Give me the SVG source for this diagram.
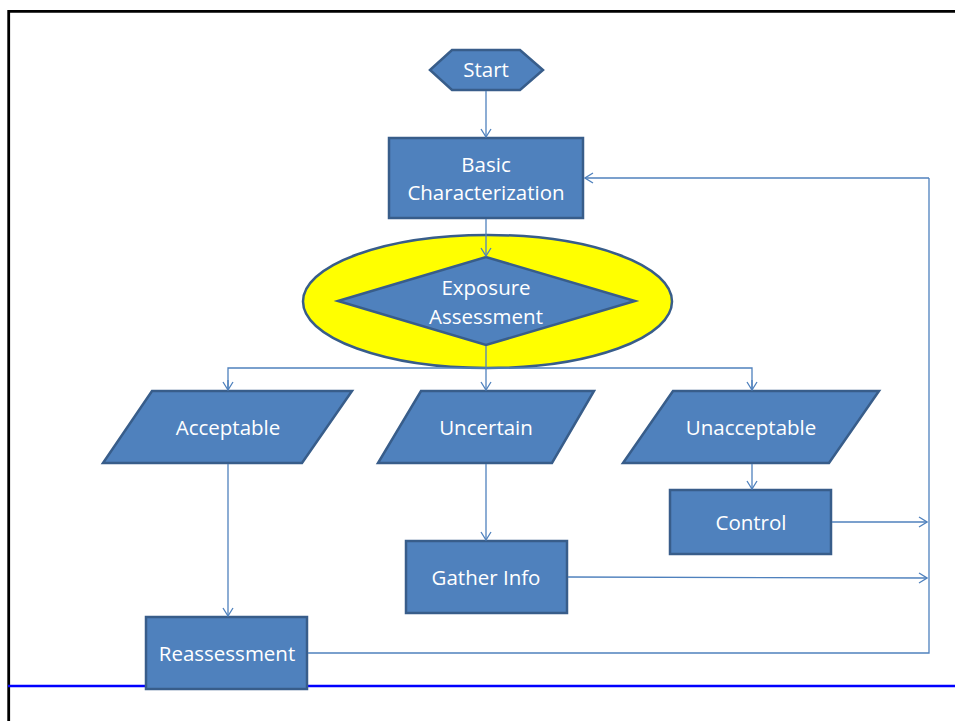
<svg xmlns="http://www.w3.org/2000/svg" width="955" height="721" viewBox="0 0 955 721">
  <style>
    .shape { fill: #4F81BD; stroke: #385D8A; stroke-width: 2.5; stroke-linejoin: miter; }
    .label { fill: #FFFFFF; font-family: "Open Sans", "Liberation Sans", sans-serif; font-size: 20.5px; text-anchor: middle; }
    .wire { fill: none; stroke: #4F81BD; stroke-width: 1.3; }
  </style>
  <defs>
    <marker id="arrow" viewBox="0 0 10 12" refX="9" refY="6" markerWidth="10" markerHeight="12" markerUnits="userSpaceOnUse" orient="auto">
      <path d="M1 1 L9 6 L1 11" fill="none" stroke="#4F81BD" stroke-width="1.3"/>
    </marker>
  </defs>

  <rect x="0" y="0" width="955" height="721" fill="#FFFFFF"/>

  <!-- slide frame -->
  <path d="M8.7 721 V11.3 H955" fill="none" stroke="#000000" stroke-width="2.8"/>
  <line x1="8" y1="686" x2="955" y2="686" stroke="#0000FF" stroke-width="2.6"/>

  <g id="start">
    <polygon class="shape" points="430,70 452,50 520,50 543,70 520,90 452,90"/>
    <text class="label" x="486" y="77">Start</text>
  </g>

  <g id="basic-characterization">
    <rect class="shape" x="389" y="138" width="194" height="80"/>
    <text class="label" x="486" y="172">Basic</text>
    <text class="label" x="486" y="200">Characterization</text>
  </g>

  <g id="exposure-assessment">
    <ellipse cx="487.5" cy="301.5" rx="184.5" ry="66.5" fill="#FFFF00" stroke="#385D8A" stroke-width="2.5"/>
    <polygon class="shape" points="338,301 486,257 635,301 486,345"/>
    <text class="label" x="486" y="295">Exposure</text>
    <text class="label" x="486" y="324">Assessment</text>
  </g>

  <g id="acceptable">
    <polygon class="shape" points="152,391 352,391 302,463 103,463"/>
    <text class="label" x="228" y="435">Acceptable</text>
  </g>

  <g id="uncertain">
    <polygon class="shape" points="421,391 594,391 552,463 378,463"/>
    <text class="label" x="486" y="435">Uncertain</text>
  </g>

  <g id="unacceptable">
    <polygon class="shape" points="673,391 879,391 829,463 623,463"/>
    <text class="label" x="751" y="435">Unacceptable</text>
  </g>

  <g id="control">
    <rect class="shape" x="670" y="490" width="161" height="64"/>
    <text class="label" x="751" y="530">Control</text>
  </g>

  <g id="gather-info">
    <rect class="shape" x="406" y="541" width="161" height="72"/>
    <text class="label" x="486" y="585">Gather Info</text>
  </g>

  <g id="reassessment">
    <rect class="shape" x="146" y="617" width="161" height="72"/>
    <text class="label" x="227" y="661">Reassessment</text>
  </g>

  <!-- connectors, drawn over the shapes so they show across the ellipse -->
  <g id="connectors">
    <line class="wire" x1="486" y1="91" x2="486" y2="137" marker-end="url(#arrow)"/>
    <line class="wire" x1="486" y1="219" x2="486" y2="256" marker-end="url(#arrow)"/>
    <line class="wire" x1="486" y1="346" x2="486" y2="390" marker-end="url(#arrow)"/>
    <polyline class="wire" points="228,390 228,368 752,368 752,390"/>
    <line class="wire" x1="228" y1="380" x2="228" y2="390" marker-end="url(#arrow)"/>
    <line class="wire" x1="752" y1="380" x2="752" y2="390" marker-end="url(#arrow)"/>
    <line class="wire" x1="228" y1="464" x2="228" y2="616" marker-end="url(#arrow)"/>
    <line class="wire" x1="486" y1="464" x2="486" y2="540" marker-end="url(#arrow)"/>
    <line class="wire" x1="752" y1="464" x2="752" y2="489" marker-end="url(#arrow)"/>
    <line class="wire" x1="832" y1="522" x2="927" y2="522" marker-end="url(#arrow)"/>
    <line class="wire" x1="568" y1="577" x2="927" y2="578" marker-end="url(#arrow)"/>
    <polyline class="wire" points="308,653 929,653 929,178"/>
    <line class="wire" x1="929" y1="178" x2="585" y2="178" marker-end="url(#arrow)"/>
  </g>
</svg>
